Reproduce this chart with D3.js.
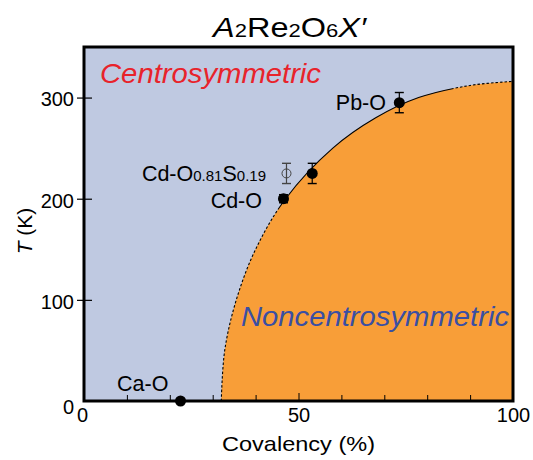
<!DOCTYPE html>
<html>
<head>
<meta charset="utf-8">
<script src="https://cdn.jsdelivr.net/npm/d3@7"></script>
<style>
  html, body { margin: 0; padding: 0; background: #fff; }
  svg { display: block; }
  text { font-family: "Liberation Sans", Arial, sans-serif; }
</style>
</head>
<body>
<svg id="chart" width="533" height="460"></svg>
<script>
// Measured compounds: covalency (%) and transition temperature (K)
const compounds = ["Ca-O", "Cd-O", "Cd-O0.81S0.19", "Cd-O (film)", "Pb-O"];
const covalency = [22.5, 46.5, 47.2, 53.2, 73.5];
const temperature = [0, 200, 225, 225, 295];
const tempError = [0, 4, 10, 10, 10];
const openMarker = [false, false, true, false, false];

// Phase boundary between the two structural regions
const boundaryCov = [32, 32.8, 35.5, 40, 47, 58, 68, 78, 90, 100];
const boundaryT   = [0, 50, 100, 150, 200, 250, 280, 300, 312, 316];

const xTicks = [0, 50, 100];
const xMinorTicks = [10, 20, 30, 40, 50, 60, 70, 80, 90];
const yTicks = [0, 100, 200, 300];

const svg = d3.select("#chart");
const plotL = 84, plotR = 513, plotT = 47, plotB = 401;
const x = d3.scaleLinear().domain([0, 100]).range([plotL, plotR]);
const y = d3.scaleLinear().domain([0, 350]).range([plotB, plotT]);

// Plot background (centrosymmetric region)
svg.append("rect")
  .attr("x", plotL).attr("y", plotT)
  .attr("width", plotR - plotL).attr("height", plotB - plotT)
  .attr("fill", "#BFC9E1");

const boundary = boundaryCov.map((c, i) => [c, boundaryT[i]]);
const curve = d3.line().x(d => x(d[0])).y(d => y(d[1])).curve(d3.curveCatmullRom.alpha(0.5));

// Noncentrosymmetric region
const areaPath = curve(boundary) + `L${x(100)},${y(0)}Z`;
svg.append("path").attr("d", areaPath).attr("fill", "#F89E38");

// Boundary line: dashed at both ends, solid through the measured points
const bLine = svg.append("path")
  .attr("d", curve(boundary))
  .attr("fill", "none")
  .attr("stroke", "#000")
  .attr("stroke-width", 1.1);
const node = bLine.node();
const total = node.getTotalLength();
let L1 = 0, L2 = total;
for (let l = 0; l <= total; l += 0.5) {
  const p = node.getPointAtLength(l);
  if (L1 === 0 && y.invert(p.y) >= 190) L1 = l;
  if (x.invert(p.x) >= 86) { L2 = l; break; }
}
const dashes = [];
const dOn = 2.5, dOff = 2;
let acc = 0;
while (acc + dOn + dOff < L1) { dashes.push(dOn, dOff); acc += dOn + dOff; }
dashes.push(L2 - acc, 0);
let rest = total - L2;
dashes.push(0, dOff);
while (rest > 0) { dashes.push(dOn, dOff); rest -= dOn + dOff; }
bLine.attr("stroke-dasharray", dashes.join(","));

// Axis ticks
svg.append("g").attr("transform", `translate(0,${plotB})`)
  .call(d3.axisTop(x).tickValues(xMinorTicks).tickSize(6).tickFormat(""))
  .call(g => g.select(".domain").remove())
  .call(g => g.selectAll(".tick line").attr("stroke-width", 1)
    .attr("y2", d => d === 50 ? -8 : -6));

const yAxis = svg.append("g").attr("transform", `translate(${plotL},0)`)
  .call(d3.axisLeft(y).tickValues(yTicks).tickSize(7).tickPadding(3))
  .call(g => g.select(".domain").remove());
yAxis.selectAll(".tick line").attr("x2", -7).attr("x1", 8).attr("stroke-width", 1.2);
yAxis.selectAll(".tick text")
  .attr("font-family", "Liberation Sans, Arial, sans-serif")
  .attr("font-size", 20).attr("fill", "#000")
  .attr("dy", d => d === 0 ? "0.6em" : "0.42em");
yAxis.selectAll(".tick").filter(d => d === 0).select("line").remove();

const xAxis = svg.append("g").attr("transform", `translate(0,${plotB})`)
  .call(d3.axisBottom(x).tickValues(xTicks).tickSize(0).tickPadding(10))
  .call(g => g.select(".domain").remove());
xAxis.selectAll(".tick text")
  .attr("font-family", "'Noto Sans CJK JP', sans-serif")
  .attr("font-size", 20).attr("fill", "#000")
  .attr("dy", "0.55em");
xAxis.selectAll(".tick").filter(d => d === 0).select("text").attr("dx", "-2");

// Frame
svg.append("rect")
  .attr("x", plotL).attr("y", plotT)
  .attr("width", plotR - plotL).attr("height", plotB - plotT)
  .attr("fill", "none").attr("stroke", "#000").attr("stroke-width", 3);

// Region labels
svg.append("text").attr("x", 100).attr("y", 83)
  .attr("font-size", 28).attr("font-style", "italic").attr("fill", "#E8232B")
  .attr("textLength", 221).attr("lengthAdjust", "spacingAndGlyphs")
  .text("Centrosymmetric");
svg.append("text").attr("x", 241).attr("y", 326)
  .attr("font-size", 28).attr("font-style", "italic").attr("fill", "#3A4FA3")
  .attr("textLength", 268).attr("lengthAdjust", "spacingAndGlyphs")
  .text("Noncentrosymmetric");

// Error bars and markers
const pts = compounds.map((n, i) => ({
  name: n, c: covalency[i], t: temperature[i], e: tempError[i], open: openMarker[i]
}));
const pg = svg.append("g");
pts.filter(d => d.e > 0).forEach(d => {
  const col = d.open ? "#444" : "#000";
  pg.append("line").attr("x1", x(d.c)).attr("x2", x(d.c))
    .attr("y1", y(d.t - d.e)).attr("y2", y(d.t + d.e))
    .attr("stroke", col).attr("stroke-width", 1.2);
  [d.t - d.e, d.t + d.e].forEach(v => {
    pg.append("line").attr("x1", x(d.c) - 4.5).attr("x2", x(d.c) + 4.5)
      .attr("y1", y(v)).attr("y2", y(v))
      .attr("stroke", col).attr("stroke-width", 1.4);
  });
});
pg.selectAll("circle").data(pts).join("circle")
  .attr("cx", d => x(d.c)).attr("cy", d => y(d.t))
  .attr("r", d => d.open ? 4.5 : 5.5)
  .attr("fill", d => d.open ? "none" : "#000")
  .attr("stroke", d => d.open ? "#444" : "none")
  .attr("stroke-width", 1);

// Compound labels
const lab = svg.append("g").attr("font-size", 21.5).attr("fill", "#000");
lab.append("text").attr("x", 386).attr("y", 110).attr("text-anchor", "end").text("Pb-O");
lab.append("text").attr("x", 262).attr("y", 208).attr("text-anchor", "end").text("Cd-O");
lab.append("text").attr("x", 117).attr("y", 391).text("Ca-O");
const cds = lab.append("text").attr("x", 266).attr("y", 181).attr("text-anchor", "end");
cds.append("tspan").text("Cd-O");
cds.append("tspan").attr("font-size", 15).text("0.81");
cds.append("tspan").text("S");
cds.append("tspan").attr("font-size", 15).text("0.19");

// Title
const title = svg.append("text").attr("x", 213).attr("y", 37)
  .attr("font-size", 28).attr("fill", "#000")
  .attr("textLength", 153).attr("lengthAdjust", "spacingAndGlyphs");
title.append("tspan").attr("font-style", "italic").text("A");
title.append("tspan").attr("font-size", 19).text("2");
title.append("tspan").text("Re");
title.append("tspan").attr("font-size", 19).text("2");
title.append("tspan").text("O");
title.append("tspan").attr("font-size", 19).text("6");
title.append("tspan").attr("font-style", "italic").text("X\u2032");

// Axis titles
svg.append("text").attr("x", 222).attr("y", 451)
  .attr("font-size", 21)
  .attr("font-family", "'Noto Sans CJK JP', sans-serif")
  .attr("textLength", 153).attr("lengthAdjust", "spacingAndGlyphs")
  .text("Covalency (%)");
const yt = svg.append("text")
  .attr("transform", `translate(32,${231}) rotate(-90)`)
  .attr("text-anchor", "middle").attr("font-size", 21);
yt.append("tspan").attr("font-style", "italic").text("T");
yt.append("tspan").text(" (K)");
</script>
</body>
</html>
